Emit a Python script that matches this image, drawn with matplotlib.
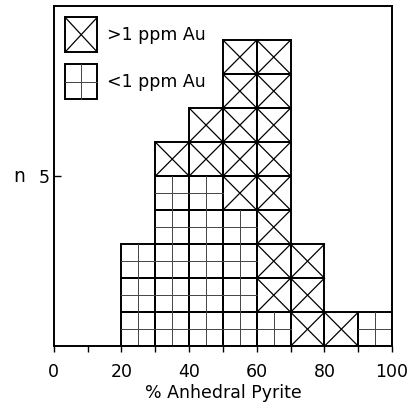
import numpy as np
import matplotlib
matplotlib.use("Agg")
import matplotlib.pyplot as plt
from matplotlib.patches import Rectangle
from matplotlib.lines import Line2D
from matplotlib.legend_handler import HandlerBase

# bins of % anhedral pyrite (left edges), width 10
bin_left = [0, 10, 20, 30, 40, 50, 60, 70, 80, 90]
low_au = [0, 0, 3, 5, 5, 4, 1, 0, 0, 1]    # <1 ppm Au (gridded boxes)
high_au = [0, 0, 0, 1, 2, 5, 8, 3, 1, 0]   # >1 ppm Au (crossed boxes)
bin_w = 10
labels = [">1 ppm Au", "<1 ppm Au"]

LW = 1.4
LW_IN = 0.7
FS = 12.5


def draw_box(x, y, w, h, kind, trans):
    arts = [Rectangle((x, y), w, h, fill=False, ec="k", lw=LW, transform=trans)]
    if kind == "cross":
        arts.append(Line2D([x, x + w], [y, y + h], color="k", lw=LW_IN + 0.2, transform=trans))
        arts.append(Line2D([x, x + w], [y + h, y], color="k", lw=LW_IN + 0.2, transform=trans))
    else:
        arts.append(Line2D([x + w / 2, x + w / 2], [y, y + h], color="#444444", lw=LW_IN, transform=trans))
        arts.append(Line2D([x, x + w], [y + h / 2, y + h / 2], color="#444444", lw=LW_IN, transform=trans))
    return arts


class BoxHandler(HandlerBase):
    def __init__(self, kind):
        super().__init__()
        self.kind = kind

    def create_artists(self, legend, orig_handle, xdescent, ydescent,
                       width, height, fontsize, trans):
        return draw_box(-xdescent, -ydescent, width, height, self.kind, trans)


fig = plt.figure(figsize=(4.11, 4.03), dpi=100)
ax = fig.add_axes([0.131, 0.141, 0.823, 0.844])

for x, nl, nh in zip(bin_left, low_au, high_au):
    boxes = [(i, "grid") for i in range(nl)] + [(nl + j, "cross") for j in range(nh)]
    for y, kind in boxes:
        for a in draw_box(x, y, bin_w, 1, kind, ax.transData):
            if isinstance(a, Rectangle):
                ax.add_patch(a)
            else:
                ax.add_line(a)

ax.set_xlim(0, 100)
ax.set_ylim(0, 10)
for s in ax.spines.values():
    s.set_linewidth(LW)

ax.set_xticks(np.arange(0, 101, 20))
ax.set_xticks(np.arange(10, 100, 20), minor=True)
ax.tick_params(axis="x", which="both", direction="out", length=4, width=1, labelsize=FS, pad=8)
ax.set_yticks([5])
ax.tick_params(axis="y", direction="in", length=5, width=1, labelsize=FS, pad=3)
ax.set_xlabel("% Anhedral Pyrite", fontsize=FS, labelpad=2)
ax.set_ylabel("n", fontsize=FS + 1, rotation=0, labelpad=14, va="center")

h1 = Rectangle((0, 0), 1, 1)
h2 = Rectangle((0, 0), 1, 1, ls="--")
ax.legend([h1, h2], labels, loc="upper left", frameon=False, fontsize=FS,
          handler_map={h1: BoxHandler("cross"), h2: BoxHandler("grid")},
          handlelength=1.85, handleheight=2.7, handletextpad=0.55,
          labelspacing=0.7, borderaxespad=0.35, borderpad=0.3)

fig.savefig("out.png", dpi=100)
